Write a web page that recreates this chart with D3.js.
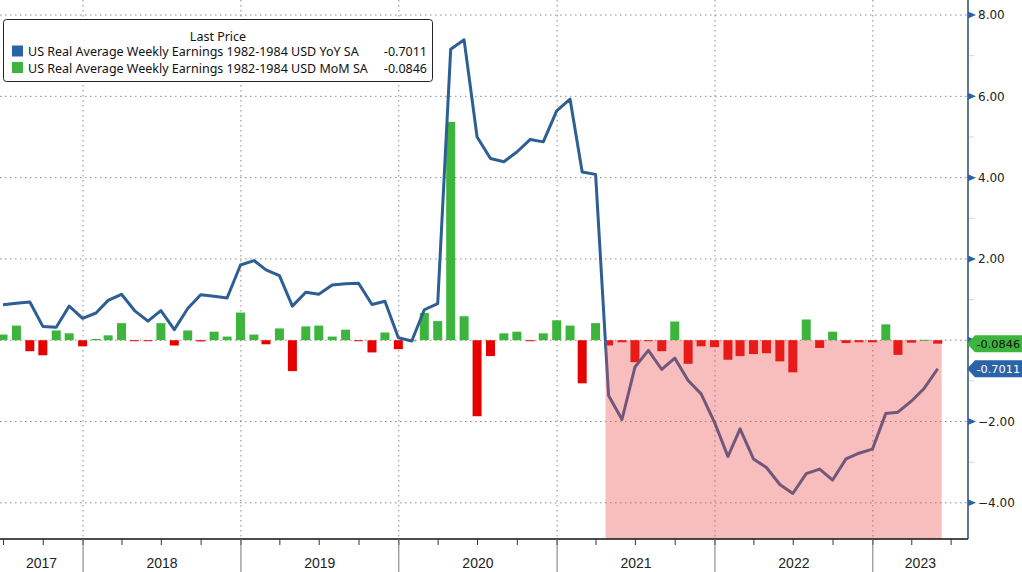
<!DOCTYPE html>
<html>
<head>
<meta charset="utf-8">
<script src="https://cdn.jsdelivr.net/npm/d3@7"></script>
<style>
  body { margin: 0; background: #fff; }
  svg { display: block; }
</style>
</head>
<body>
<svg id="chart" width="1022" height="572"></svg>
<script>
// month-end points, first one is Jun 2017
const firstMonth = [2017, 5];

const yoy = [0.87, 0.91, 0.94, 0.34, 0.32, 0.84, 0.54, 0.67, 0.98, 1.13, 0.73, 0.47,
    0.73, 0.26, 0.78, 1.12, 1.08, 1.04, 1.85, 1.96, 1.73, 1.59, 0.84, 1.18,
    1.13, 1.36, 1.39, 1.40, 0.88, 0.96, 0.06, -0.02, 0.75, 0.90, 7.16, 7.39,
    5.00, 4.47, 4.39, 4.63, 4.94, 4.88, 5.64, 5.93, 4.14, 4.08, -1.36, -1.95,
    -0.66, -0.25, -0.72, -0.44, -0.99, -1.32, -2.02, -2.86, -2.18, -2.92, -3.13, -3.55,
    -3.77, -3.28, -3.17, -3.44, -2.92, -2.78, -2.68, -1.80, -1.77, -1.50, -1.18, -0.7011];

const mom = [0.14, 0.36, -0.27, -0.37, 0.24, 0.17, -0.15, 0.03, 0.12, 0.42, -0.02, -0.02,
    0.42, -0.13, 0.24, -0.03, 0.21, 0.09, 0.68, 0.14, -0.10, 0.29, -0.76, 0.34,
    0.36, 0.09, 0.26, -0.02, -0.30, 0.19, -0.22, 0.00, 0.67, 0.47, 5.37, 0.59,
    -1.87, -0.39, 0.17, 0.21, -0.02, 0.17, 0.49, 0.36, -1.06, 0.42, -0.13, -0.05,
    -0.54, -0.01, -0.27, 0.46, -0.58, -0.15, -0.17, -0.48, -0.39, -0.34, -0.32, -0.52,
    -0.79, 0.51, -0.19, 0.21, -0.07, -0.05, -0.05, 0.39, -0.36, -0.06, 0.01, -0.0846];

const yTicks = [-4, -2, 0, 2, 4, 6, 8];
const yLabels = [-4, -2, 2, 4, 6, 8]; // 0.00 sits under the last-value tags
const yMinor = [-3, -1, 1, 3, 5, 7];
const years = [2017, 2018, 2019, 2020, 2021, 2022, 2023];
const shadeStart = Date.UTC(2021, 3, 23);
const shadeEnd = Date.UTC(2023, 5, 9);

const legendTitle = "Last Price";
const seriesNames = ["US Real Average Weekly Earnings 1982-1984 USD YoY SA",
    "US Real Average Weekly Earnings 1982-1984 USD MoM SA"];
const lastValues = ["-0.7011", "-0.0846"];

const blue = "#2d5f94", green = "#3db53d", red = "#e60000";

const svg = d3.select("#chart");
const width = +svg.attr("width");
const height = +svg.attr("height");
const plotR = 968, plotB = 539;

const dates = yoy.map((d, i) => new Date(Date.UTC(firstMonth[0], firstMonth[1] + i + 1, 0)));

const x = d3.scaleUtc()
    .domain([Date.UTC(2017, 5, 23), Date.UTC(2023, 7, 9)])
    .range([0, plotR]);
const y = d3.scaleLinear().domain([-4.89, 8.37]).range([plotB, 0]);

// grid
const grid = svg.append("g").attr("stroke", "#8a8a8a").attr("stroke-dasharray", "1.5,3.5");
grid.selectAll(".hg")
    .data(yTicks)
    .join("line")
    .attr("x1", 0).attr("x2", plotR)
    .attr("y1", d => y(d)).attr("y2", d => y(d));
grid.selectAll(".vg")
    .data(years.slice(1))
    .join("line")
    .attr("x1", d => x(Date.UTC(d, 0, 1))).attr("x2", d => x(Date.UTC(d, 0, 1)))
    .attr("y1", 0).attr("y2", plotB);

// MoM bars
const barW = 9;
svg.append("g").selectAll("rect")
    .data(mom)
    .join("rect")
    .attr("x", (d, i) => x(dates[i]) - barW / 2)
    .attr("y", d => y(Math.max(0, d)))
    .attr("width", barW)
    .attr("height", d => Math.max(1, Math.abs(y(d) - y(0))))
    .attr("fill", d => d >= 0 ? green : red);

// YoY line
svg.append("path")
    .datum(yoy)
    .attr("fill", "none")
    .attr("stroke", blue)
    .attr("stroke-width", 3)
    .attr("stroke-linejoin", "round")
    .attr("d", d3.line().x((d, i) => x(dates[i])).y(d => y(d)));

// negative real wage shading
svg.append("rect")
    .attr("x", x(shadeStart))
    .attr("y", y(0))
    .attr("width", x(shadeEnd) - x(shadeStart))
    .attr("height", plotB - y(0))
    .attr("fill", "rgb(235,75,75)")
    .attr("fill-opacity", 0.36);

// bottom axis
const bottom = svg.append("g");
bottom.append("line")
    .attr("x1", 0).attr("x2", plotR)
    .attr("y1", plotB).attr("y2", plotB)
    .attr("stroke", "#111").attr("stroke-width", 1.5);
bottom.selectAll(".qt")
    .data(d3.utcMonth.every(3).range(x.domain()[0], x.domain()[1]))
    .join("line")
    .attr("x1", d => x(d)).attr("x2", d => x(d))
    .attr("y1", plotB).attr("y2", plotB + 6)
    .attr("stroke", "#333");
bottom.selectAll(".ysep")
    .data(years.slice(1))
    .join("line")
    .attr("x1", d => x(Date.UTC(d, 0, 1))).attr("x2", d => x(Date.UTC(d, 0, 1)))
    .attr("y1", plotB).attr("y2", height)
    .attr("stroke", "#777");
bottom.selectAll("text")
    .data(years)
    .join("text")
    .attr("x", d => (Math.max(0, x(Date.UTC(d, 0, 1))) + Math.min(plotR, x(Date.UTC(d + 1, 0, 1)))) / 2)
    .attr("y", 568)
    .attr("text-anchor", "middle")
    .style("font-family", "'Liberation Sans Narrow', 'Liberation Sans', Arial, sans-serif")
    .style("font-size", "14px")
    .style("fill", "#222")
    .text(d => d);

// right axis
const right = svg.append("g").attr("transform", `translate(${plotR},0)`);
right.append("line")
    .attr("x1", 0).attr("x2", 0).attr("y1", 0).attr("y2", plotB)
    .attr("stroke", "#2b4a6b").attr("stroke-width", 1.5);
right.selectAll(".minor")
    .data(yMinor)
    .join("line")
    .attr("x1", 1).attr("x2", 6)
    .attr("y1", d => y(d)).attr("y2", d => y(d))
    .attr("stroke", "#cfd6de");
right.selectAll(".tri")
    .data(yTicks)
    .join("path")
    .attr("d", "M0,-3.5L8,0L0,3.5Z")
    .attr("transform", d => `translate(0,${y(d)})`)
    .attr("fill", "#2a64a6");
right.selectAll(".lab")
    .data(yLabels)
    .join("text")
    .attr("x", 10)
    .attr("y", d => y(d))
    .attr("dy", "0.35em")
    .style("font-family", "'DejaVu Sans', sans-serif")
    .style("font-size", "12px")
    .style("fill", "#222")
    .text(d => d3.format(".2f")(d));

// last value tags
const tags = [
    { v: mom[mom.length - 1], fill: green, color: "#111", label: lastValues[1] },
    { v: yoy[yoy.length - 1], fill: "#2a64a6", color: "#fff", label: lastValues[0] }
];
const tg = right.selectAll(".tag")
    .data(tags)
    .join("g")
    .attr("transform", d => `translate(0,${y(d.v)})`);
tg.append("path")
    .attr("d", "M-1,0L7,-8.5L60,-8.5L60,8.5L7,8.5Z")
    .attr("fill", d => d.fill);
tg.append("text")
    .attr("x", 8.5)
    .attr("dy", "0.36em")
    .style("font-family", "'DejaVu Sans', sans-serif")
    .style("font-size", "11.3px")
    .style("fill", d => d.color)
    .text(d => d.label);

// legend
const lg = svg.append("g");
lg.append("rect")
    .attr("x", 3.5).attr("y", 19.5)
    .attr("width", 429).attr("height", 62)
    .attr("rx", 3)
    .attr("fill", "#fff")
    .attr("stroke", "#222");
lg.append("text")
    .attr("x", 218).attr("y", 41)
    .attr("text-anchor", "middle")
    .style("font-family", "'Noto Sans', sans-serif")
    .style("font-size", "12.5px")
    .style("fill", "#111")
    .text(legendTitle);
const rows = lg.selectAll(".row")
    .data(seriesNames)
    .join("g")
    .attr("transform", (d, i) => `translate(0,${56 + i * 16.5})`);
rows.append("rect")
    .attr("x", 12).attr("y", -10.5)
    .attr("width", 11).attr("height", 11)
    .attr("fill", (d, i) => i === 0 ? "#2a64a6" : green);
rows.append("text")
    .attr("x", 28)
    .style("font-family", "'Noto Sans', sans-serif")
    .style("font-size", "12.5px")
    .style("fill", "#111")
    .text(d => d);
rows.append("text")
    .attr("x", 427)
    .attr("text-anchor", "end")
    .style("font-family", "'Noto Sans', sans-serif")
    .style("font-size", "12.5px")
    .style("fill", "#111")
    .text((d, i) => lastValues[i]);
</script>
</body>
</html>
